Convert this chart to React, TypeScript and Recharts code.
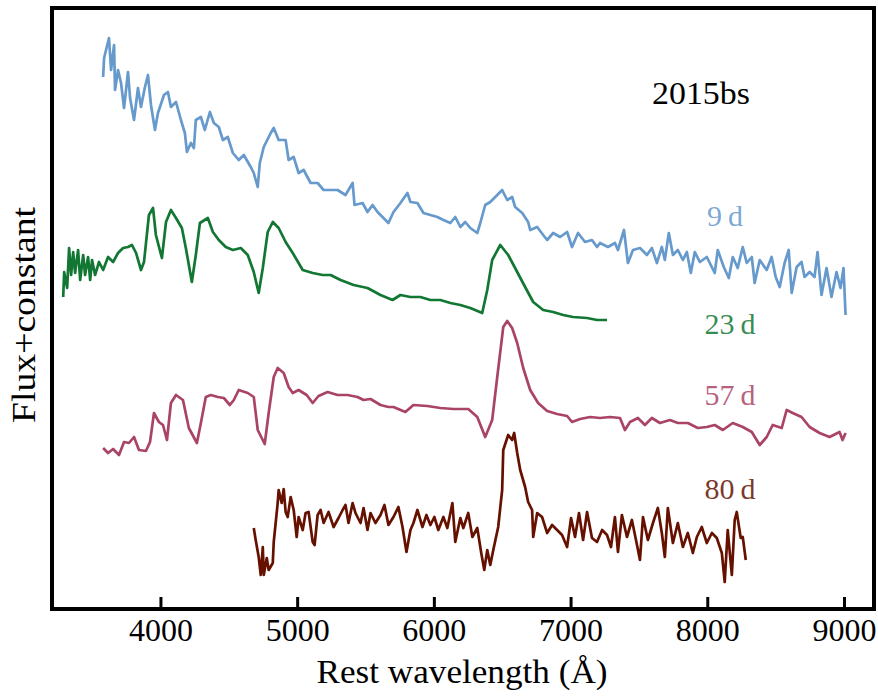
import React from 'react';
import { LineChart, Line, XAxis, YAxis, ReferenceLine } from 'recharts';

// Spectra of SN 2015bs at four epochs, offset vertically ([rest wavelength Å, flux + constant])
const SPEC_9D: [number, number][] = [
  [3577, 5.32], [3584, 5.51], [3620, 5.71], [3635, 5.39], [3657, 5.64], [3664, 5.19], [3686, 5.39],
  [3708, 5.26], [3730, 5.01], [3759, 5.37], [3774, 5.11], [3803, 4.89], [3832, 5.21], [3854, 5.02],
  [3883, 5.22], [3905, 5.34], [3927, 5.04], [3956, 4.79], [3978, 4.96], [4022, 5.14], [4051, 5.17],
  [4073, 5.02], [4110, 5.07], [4146, 4.89], [4175, 4.76], [4190, 4.57], [4219, 4.66], [4241, 4.61],
  [4255, 4.89], [4292, 4.92], [4321, 4.79], [4358, 4.97], [4387, 4.86], [4423, 4.82], [4453, 4.69],
  [4489, 4.72], [4526, 4.56], [4569, 4.49], [4606, 4.54], [4657, 4.42], [4679, 4.36], [4708, 4.22],
  [4723, 4.46], [4752, 4.62], [4803, 4.76], [4825, 4.81], [4861, 4.69], [4912, 4.69], [4934, 4.49],
  [4971, 4.52], [5007, 4.36], [5044, 4.39], [5095, 4.26], [5146, 4.26], [5190, 4.19], [5241, 4.19],
  [5292, 4.19], [5350, 4.14], [5402, 4.26], [5416, 4.04], [5475, 4.06], [5511, 3.97], [5548, 4.04],
  [5584, 3.97], [5628, 3.91], [5664, 3.86], [5701, 3.97], [5752, 4.06], [5803, 4.16], [5825, 4.07],
  [5876, 4.06], [5920, 3.96], [5971, 3.94], [6022, 3.92], [6066, 3.89], [6117, 3.86], [6153, 3.92],
  [6190, 3.82], [6226, 3.87], [6263, 3.81], [6314, 3.76], [6336, 3.86], [6372, 4.04], [6409, 4.07],
  [6460, 4.14], [6496, 4.19], [6533, 4.09], [6569, 4.12], [6591, 4.02], [6643, 3.96], [6686, 3.87],
  [6701, 3.79], [6752, 3.82], [6796, 3.74], [6825, 3.69], [6869, 3.76], [6920, 3.72], [6971, 3.77],
  [7007, 3.62], [7051, 3.76], [7102, 3.67], [7153, 3.69], [7190, 3.62], [7212, 3.66], [7270, 3.62],
  [7321, 3.66], [7343, 3.59], [7387, 3.79], [7416, 3.46], [7453, 3.59], [7504, 3.61], [7555, 3.54],
  [7591, 3.61], [7628, 3.46], [7664, 3.62], [7686, 3.49], [7715, 3.76], [7745, 3.54], [7781, 3.59],
  [7818, 3.49], [7847, 3.57], [7876, 3.36], [7905, 3.57], [7942, 3.47], [7993, 3.52], [8051, 3.36],
  [8073, 3.59], [8117, 3.42], [8154, 3.31], [8183, 3.52], [8219, 3.41], [8256, 3.62], [8285, 3.46],
  [8322, 3.52], [8343, 3.26], [8380, 3.49], [8431, 3.39], [8467, 3.52], [8497, 3.32], [8526, 3.22],
  [8562, 3.46], [8592, 3.59], [8614, 3.16], [8650, 3.42], [8686, 3.47], [8708, 3.32], [8745, 3.37],
  [8781, 3.32], [8803, 3.57], [8832, 3.14], [8869, 3.41], [8905, 3.12], [8942, 3.37], [8971, 3.21],
  [8993, 3.41], [9008, 2.94],
];

const SPEC_23D: [number, number][] = [
  [3285, 3.12], [3292, 3.37], [3314, 3.21], [3328, 3.61], [3343, 3.34], [3358, 3.57], [3372, 3.36],
  [3394, 3.59], [3409, 3.29], [3431, 3.54], [3445, 3.34], [3467, 3.52], [3482, 3.29], [3496, 3.49],
  [3518, 3.34], [3547, 3.47], [3577, 3.39], [3613, 3.52], [3650, 3.47], [3686, 3.56], [3723, 3.61],
  [3759, 3.62], [3788, 3.64], [3818, 3.56], [3854, 3.39], [3876, 3.47], [3912, 3.94], [3942, 4.01],
  [3963, 3.74], [4007, 3.51], [4037, 3.87], [4073, 3.99], [4110, 3.91], [4153, 3.81], [4182, 3.61],
  [4226, 3.27], [4255, 3.54], [4285, 3.86], [4343, 3.91], [4380, 3.77], [4423, 3.69], [4474, 3.62],
  [4526, 3.59], [4584, 3.61], [4635, 3.54], [4679, 3.37], [4715, 3.16], [4745, 3.41], [4781, 3.77],
  [4818, 3.87], [4861, 3.81], [4912, 3.67], [4964, 3.56], [5037, 3.39], [5110, 3.36], [5183, 3.34],
  [5241, 3.34], [5314, 3.29], [5409, 3.24], [5511, 3.21], [5606, 3.14], [5694, 3.09], [5752, 3.14],
  [5825, 3.12], [5898, 3.12], [5971, 3.09], [6044, 3.09], [6117, 3.06], [6190, 3.04], [6263, 3.01],
  [6350, 2.96], [6387, 3.19], [6423, 3.49], [6482, 3.64], [6540, 3.54], [6606, 3.37], [6664, 3.22],
  [6723, 3.07], [6796, 2.99], [6869, 2.97], [6942, 2.94], [7015, 2.92], [7117, 2.91], [7190, 2.89],
  [7263, 2.89],
];

const SPEC_57D: [number, number][] = [
  [3577, 1.61], [3613, 1.56], [3650, 1.60], [3693, 1.54], [3730, 1.67], [3766, 1.66], [3803, 1.72],
  [3839, 1.59], [3890, 1.58], [3920, 1.67], [3949, 1.96], [3985, 1.87], [4015, 1.84], [4044, 1.69],
  [4073, 2.06], [4110, 2.14], [4161, 2.09], [4204, 1.81], [4263, 1.66], [4292, 1.86], [4328, 2.12],
  [4365, 2.14], [4416, 2.12], [4460, 2.11], [4504, 2.04], [4533, 2.09], [4569, 2.19], [4635, 2.16],
  [4679, 2.12], [4708, 1.79], [4759, 1.65], [4788, 1.96], [4825, 2.32], [4854, 2.41], [4898, 2.36],
  [4934, 2.22], [4964, 2.16], [5007, 2.19], [5066, 2.14], [5110, 2.06], [5153, 2.13], [5219, 2.17],
  [5292, 2.14], [5365, 2.14], [5438, 2.12], [5482, 2.09], [5533, 2.10], [5606, 2.04], [5664, 2.02],
  [5701, 2.02], [5788, 1.97], [5847, 2.04], [5949, 2.03], [6044, 2.01], [6139, 2.00], [6248, 2.00],
  [6314, 1.92], [6372, 1.72], [6423, 1.89], [6460, 2.32], [6504, 2.82], [6533, 2.88], [6569, 2.81],
  [6606, 2.66], [6650, 2.41], [6701, 2.19], [6759, 2.06], [6825, 1.98], [6898, 1.95], [6971, 1.93],
  [7007, 1.87], [7066, 1.90], [7139, 1.92], [7212, 1.91], [7285, 1.92], [7358, 1.91], [7394, 1.79],
  [7431, 1.87], [7489, 1.91], [7540, 1.84], [7591, 1.91], [7650, 1.86], [7723, 1.89], [7781, 1.86],
  [7854, 1.86], [7927, 1.81], [7993, 1.82], [8051, 1.84], [8110, 1.79], [8183, 1.86], [8256, 1.82],
  [8322, 1.77], [8380, 1.64], [8431, 1.72], [8475, 1.84], [8541, 1.81], [8577, 1.99], [8621, 1.96],
  [8686, 1.92], [8745, 1.82], [8818, 1.76], [8891, 1.72], [8964, 1.77], [8986, 1.69], [9008, 1.76],
];

const SPEC_80D: [number, number][] = [
  [4679, 0.81], [4693, 0.69], [4715, 0.52], [4730, 0.34], [4745, 0.62], [4752, 0.34], [4774, 0.51],
  [4788, 0.39], [4818, 0.46], [4825, 0.67], [4854, 1.06], [4861, 1.19], [4883, 1.06], [4898, 1.20],
  [4912, 0.97], [4927, 0.92], [4949, 1.12], [4971, 0.99], [4993, 0.72], [5007, 0.92], [5037, 0.79],
  [5058, 0.96], [5080, 0.97], [5110, 0.67], [5124, 0.64], [5146, 0.94], [5168, 0.99], [5190, 0.86],
  [5226, 0.97], [5263, 0.82], [5299, 0.91], [5329, 0.99], [5350, 1.04], [5372, 0.86], [5402, 1.06],
  [5423, 0.96], [5460, 0.86], [5482, 1.01], [5511, 0.79], [5533, 0.96], [5569, 0.86], [5606, 0.94],
  [5635, 1.04], [5664, 0.84], [5701, 0.92], [5737, 1.02], [5767, 0.82], [5796, 0.57], [5825, 0.79],
  [5847, 0.86], [5876, 0.99], [5913, 0.82], [5942, 0.94], [5971, 0.84], [6000, 0.92], [6029, 0.79],
  [6066, 0.92], [6095, 0.81], [6132, 1.06], [6153, 0.67], [6190, 0.91], [6212, 0.81], [6248, 0.96],
  [6278, 0.72], [6314, 0.81], [6343, 0.56], [6365, 0.39], [6387, 0.59], [6409, 0.44], [6431, 0.59],
  [6467, 0.82], [6496, 1.19], [6504, 1.59], [6540, 1.74], [6569, 1.69], [6584, 1.76], [6606, 1.56],
  [6628, 1.39], [6664, 1.22], [6686, 1.07], [6715, 0.99], [6723, 0.72], [6752, 0.96], [6788, 0.92],
  [6825, 0.76], [6861, 0.84], [6898, 0.79], [6934, 0.74], [6971, 0.62], [7000, 0.91], [7029, 0.72],
  [7058, 0.96], [7088, 0.69], [7117, 0.97], [7153, 0.71], [7190, 0.67], [7227, 0.79], [7263, 0.74],
  [7292, 0.62], [7321, 0.92], [7343, 0.57], [7372, 0.94], [7409, 0.72], [7445, 0.89], [7475, 0.69],
  [7504, 0.49], [7526, 0.92], [7562, 0.69], [7599, 0.86], [7635, 1.01], [7664, 0.76], [7686, 0.52],
  [7708, 1.01], [7745, 0.66], [7781, 0.86], [7818, 0.62], [7854, 0.76], [7891, 0.56], [7920, 0.72],
  [7956, 0.82], [7993, 0.66], [8030, 0.76], [8066, 0.71], [8103, 0.56], [8124, 0.27], [8146, 0.79],
  [8176, 0.34], [8197, 0.89], [8212, 0.97], [8241, 0.71], [8256, 0.72], [8278, 0.49],
];

const X_TICKS = [4000, 5000, 6000, 7000, 8000, 9000];
const EPOCHS = ['9\u2009d', '23\u2009d', '57\u2009d', '80\u2009d'];
const SN_NAME = '2015bs';
const FLUX_MAX = 6.01;
const TICK_LEN = 0.12; // inward tick length, in flux units

const COLORS = {
  d9: '#6699cc',
  d23: '#117733',
  d57: '#aa4466',
  d80: '#661100',
};

const FONT = '"Liberation Serif", "Times New Roman", serif';

const toRows = (spec: [number, number][]) => spec.map(([w, f]) => ({ w, f }));

const series = [
  { key: '9d', data: toRows(SPEC_9D), color: COLORS.d9 },
  { key: '23d', data: toRows(SPEC_23D), color: COLORS.d23 },
  { key: '57d', data: toRows(SPEC_57D), color: COLORS.d57 },
  { key: '80d', data: toRows(SPEC_80D), color: COLORS.d80 },
];

const epochLabels = [
  { text: EPOCHS[0], color: COLORS.d9, x: 725, y: 226 },
  { text: EPOCHS[1], color: COLORS.d23, x: 730, y: 334 },
  { text: EPOCHS[2], color: COLORS.d57, x: 730, y: 405 },
  { text: EPOCHS[3], color: COLORS.d80, x: 730, y: 499 },
];

const TickLabel = (props: any) => {
  const { x, y, payload } = props;
  return (
    <text
      x={x}
      y={y}
      dy="0.71em"
      textAnchor="middle"
      fill="#000"
      fontSize={32}
      fontFamily={FONT}
      textLength={64}
      lengthAdjust="spacingAndGlyphs"
    >
      {payload.value}
    </text>
  );
};

export default function App() {
  return (
    <div style={{ position: 'absolute', left: 0, top: 0, width: 878, height: 696, background: '#fff' }}>
      {/* plot frame */}
      <div
        style={{
          position: 'absolute',
          left: 50,
          top: 6,
          width: 826,
          height: 605,
          border: '4px solid #000',
          boxSizing: 'border-box',
          pointerEvents: 'none',
        }}
      />
      <LineChart width={878} height={696} margin={{ top: 8, right: 4, left: 52, bottom: 27 }}>
        <XAxis
          dataKey="w"
          type="number"
          domain={[3203, 9216]}
          ticks={X_TICKS}
          allowDataOverflow
          axisLine={false}
          tickLine={false}
          tickSize={0}
          tickMargin={9}
          height={60}
          tick={<TickLabel />}
        />
        <YAxis hide domain={[0, FLUX_MAX]} type="number" width={0} allowDataOverflow />
        {X_TICKS.map((t) => (
          <ReferenceLine
            key={`tick-${t}`}
            segment={[{ x: t, y: 0 }, { x: t, y: TICK_LEN }]}
            stroke="#000"
            strokeWidth={3}
            ifOverflow="visible"
          />
        ))}
        {series.map((s) => (
          <Line
            key={s.key}
            data={s.data}
            dataKey="f"
            type="linear"
            stroke={s.color}
            strokeWidth={2.7}
            strokeLinejoin="round"
            dot={false}
            activeDot={false}
            isAnimationActive={false}
          />
        ))}
        <text x={652} y={104} fontSize={31} fontFamily={FONT} fill="#000" textLength={98} lengthAdjust="spacingAndGlyphs">
          {SN_NAME}
        </text>
        {epochLabels.map((l) => (
          <text key={l.text} x={l.x} y={l.y} textAnchor="middle" fontSize={30} fontFamily={FONT} fill={l.color} fillOpacity={0.85}>
            {l.text}
          </text>
        ))}
        <text x={462} y={683} textAnchor="middle" fontSize={34} fontFamily={FONT} fill="#000" textLength={291} lengthAdjust="spacingAndGlyphs">
          Rest wavelength (Å)
        </text>
        <text
          x={35}
          y={315}
          transform="rotate(-90 35 315)"
          textAnchor="middle"
          fontSize={33}
          fontFamily={FONT}
          fill="#000"
          textLength={216}
          lengthAdjust="spacingAndGlyphs"
        >
          Flux+constant
        </text>
      </LineChart>
    </div>
  );
}
